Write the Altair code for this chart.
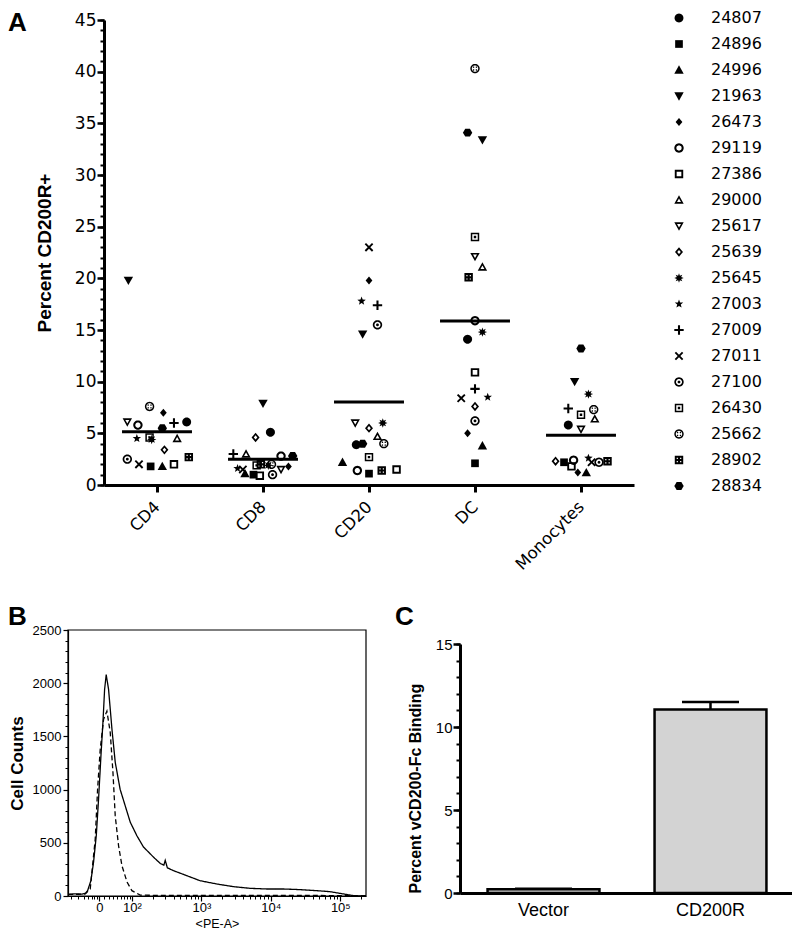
import math
import json
import altair as alt
import pandas as pd

# ---------------- Panel A data ----------------
donors = ["24807", "24896", "24996", "21963", "26473", "29119", "27386", "29000", "25617",
          "25639", "25645", "27003", "27009", "27011", "27100", "26430", "25662", "28902", "28834"]
cell_types = ["CD4", "CD8", "CD20", "DC", "Monocytes"]

# percent CD200R+ per donor (donor order above)
pct_cd4 = [6.1, 1.8, 1.8, 19.8, 7.0, 5.8, 2.0, 4.5, 6.1, 3.4, 4.4, 4.5, 6.0, 2.0, 2.5, 4.6, 7.6, 2.7, 5.5]
pct_cd8 = [5.1, 1.0, 1.1, 7.9, 1.8, 2.8, 0.9, 3.0, 1.5, 4.6, 1.9, 1.6, 3.0, 1.5, 1.0, 1.9, 2.0, 2.0, 2.8]
pct_cd20 = [3.9, 1.1, 2.2, 14.6, 19.8, 1.4, 1.5, 4.7, 6.0, 5.5, 6.0, 17.8, 17.4, 23.0, 15.5, 2.7, 4.0, 1.4, 4.0]
pct_dc = [14.1, 2.1, 3.8, 33.4, 5.0, 15.9, 10.9, 21.1, 22.1, 7.6, 14.8, 8.5, 9.3, 8.4, 6.2, 24.0, 40.3, 20.1, 34.1]
pct_mono = [5.8, 2.2, 1.2, 10.0, 1.2, 2.4, 1.8, 6.4, 5.4, 2.3, 8.8, 2.6, 7.4, 2.2, 2.2, 6.8, 7.3, 2.3, 13.2]

# horizontal scatter of each point, in category steps
jit_cd4 = [0.28, -0.06, 0.05, -0.27, 0.06, -0.18, 0.16, 0.19, -0.28, 0.07, -0.05, -0.19, 0.16, -0.17, -0.28, -0.07, -0.07, 0.30, 0.05]
jit_cd8 = [0.07, -0.09, -0.17, 0.0, 0.24, 0.17, -0.03, -0.16, 0.17, -0.07, 0.05, -0.24, -0.28, -0.19, 0.09, -0.06, 0.08, -0.02, 0.28]
jit_cd20 = [-0.12, 0.0, -0.25, -0.06, 0.0, -0.11, 0.26, 0.08, -0.13, 0.0, 0.13, -0.07, 0.08, 0.0, 0.08, 0.0, 0.14, 0.12, -0.06]
jit_dc = [-0.07, 0.0, 0.07, 0.07, -0.07, 0.0, 0.0, 0.07, 0.0, 0.0, 0.07, 0.12, 0.0, -0.13, 0.0, 0.0, 0.0, -0.06, -0.07]
jit_mono = [-0.12, -0.16, 0.05, -0.06, -0.03, -0.07, -0.09, 0.13, 0.0, -0.24, 0.07, 0.07, -0.12, 0.10, 0.17, 0.0, 0.12, 0.25, 0.0]

# ---------------- Panel B data (histogram, display units) ----------------
pe_solid_pos = [-0.45, -0.35, -0.25, -0.2, -0.168, -0.12, -0.082, -0.043, -0.01, 0.024,
                0.053, 0.077, 0.10, 0.134, 0.183, 0.23, 0.30, 0.374, 0.446, 0.542,
                0.637, 0.78, 0.88, 0.93, 0.95, 0.98, 1.07, 1.26, 1.45, 1.69,
                1.93, 2.17, 2.41, 2.65, 2.89, 3.13, 3.32, 3.52, 3.66, 3.84]
pe_solid_count = [15, 20, 18, 25, 50, 144, 319, 566, 910, 1316,
                  1632, 1942, 2080, 1942, 1566, 1257, 1004, 847, 694, 566,
                  460, 366, 305, 290, 335, 265, 238, 191, 144, 113,
                  88, 72, 66, 66, 60, 50, 41, 19, 3, 0]
pe_vec_pos = [-0.45, -0.3, -0.2, -0.13, -0.058, -0.024, 0.014, 0.062, 0.11, 0.158, 0.197,
              0.23, 0.278, 0.327, 0.40, 0.47, 0.59, 1.0, 2.0, 3.0, 3.84]
pe_vec_count = [15, 15, 20, 66, 535, 1004, 1379, 1660, 1738, 1538, 1163,
                753, 472, 284, 131, 50, 8, 5, 5, 5, 3]
pe_domain = [-0.45, 3.84]
count_domain = [0, 2500]
pe_tick_pos = [0, 0.47, 1.47, 2.47, 3.47]
pe_tick_labels = ["0", "10\u00b2", "10\u00b3", "10\u2074", "10\u2075"]
pe_lin_minor = [-0.40, -0.30, -0.22, -0.16, -0.11, -0.07, -0.03, 0.07, 0.14, 0.2, 0.26, 0.31, 0.36, 0.40, 0.44]

# ---------------- Panel C data ----------------
constructs = ["Vector", "CD200R"]
binding = [0.22, 11.05]
binding_sem = [0.03, 0.45]

panel_letters = ["A", "B", "C"]

# ---------------- layout (pixels inside the single plot area) ----------------
W, H = 784, 919
A_X, A_Y = [96, 626], [477, 12]
B_X, B_Y = [60, 358], [888, 622]
C_X, C_Y = [452, 786], [885, 636]


# ---------------- symbol shapes ----------------
def _area(p):
    return sum(x1 * y2 - x2 * y1 for (x1, y1), (x2, y2) in zip(p, p[1:] + p[:1]))


def _sub(p, hole=False):
    if (_area(p) < 0) != hole:
        p = p[::-1]
    return "M" + "L".join(f"{x:.3f},{y:.3f}" for x, y in p) + "Z"


def _circ(r, cx=0.0, cy=0.0, n=28):
    return [(cx + r * math.cos(2 * math.pi * i / n), cy + r * math.sin(2 * math.pi * i / n)) for i in range(n)]


def _sq(h, cx=0.0, cy=0.0):
    return [(cx - h, cy - h), (cx + h, cy - h), (cx + h, cy + h), (cx - h, cy + h)]


def _scale(p, k, c=(0.0, 0.0)):
    return [(c[0] + (x - c[0]) * k, c[1] + (y - c[1]) * k) for x, y in p]


def _incenter(p):
    (ax, ay), (bx, by), (cx, cy) = p
    a = math.hypot(bx - cx, by - cy)
    b = math.hypot(ax - cx, ay - cy)
    c = math.hypot(ax - bx, ay - by)
    s = a + b + c
    return ((a * ax + b * bx + c * cx) / s, (a * ay + b * by + c * cy) / s)


def _star(n, ro, ri, rot=-90.0):
    pts = []
    for i in range(2 * n):
        r = ro if i % 2 == 0 else ri
        t = math.radians(rot + 180.0 * i / n)
        pts.append((r * math.cos(t), r * math.sin(t)))
    return pts


def _plus(w, L):
    return [(-w, -L), (w, -L), (w, -w), (L, -w), (L, w), (w, w), (w, L), (-w, L),
            (-w, w), (-L, w), (-L, -w), (-w, -w)]


def _rot(p, deg):
    t = math.radians(deg)
    return [(x * math.cos(t) - y * math.sin(t), x * math.sin(t) + y * math.cos(t)) for x, y in p]


TRI_UP = [(0.0, -1.0), (1.0, 0.78), (-1.0, 0.78)]
TRI_DN = [(0.0, 1.0), (1.0, -0.78), (-1.0, -0.78)]
DIA = [(0.0, -1.0), (0.85, 0.0), (0.0, 1.0), (-0.85, 0.0)]
HEX = [(-1.0, 0.0), (-0.5, -0.85), (0.5, -0.85), (1.0, 0.0), (0.5, 0.85), (-0.5, 0.85)]

shape_paths = [
    _sub(_circ(0.95)),                                                   # 24807
    _sub(_sq(0.82)),                                                     # 24896
    _sub(TRI_UP),                                                        # 24996
    _sub(TRI_DN),                                                        # 21963
    _sub(_scale(DIA, 0.85)),                                             # 26473
    _sub(_circ(1.0)) + _sub(_circ(0.56), True),                          # 29119
    _sub(_sq(0.9)) + _sub(_sq(0.5), True),                               # 27386
    _sub(TRI_UP) + _sub(_scale(TRI_UP, 0.42, _incenter(TRI_UP)), True),  # 29000
    _sub(TRI_DN) + _sub(_scale(TRI_DN, 0.42, _incenter(TRI_DN)), True),  # 25617
    _sub(DIA) + _sub(_scale(DIA, 0.45), True),                           # 25639
    _sub(_star(8, 1.0, 0.5)),                                            # 25645
    _sub(_star(5, 0.95, 0.4)),                                           # 27003
    _sub(_plus(0.22, 1.0)),                                              # 27009
    _sub(_rot(_plus(0.2, 1.1), 45)),                                     # 27011
    _sub(_circ(1.0)) + _sub(_circ(0.64), True) + _sub(_circ(0.3)),       # 27100
    _sub(_sq(0.9)) + _sub(_sq(0.58), True) + _sub(_sq(0.26)),            # 26430
    _sub(_circ(1.0)) + _sub(_circ(0.68), True)
    + "".join(_sub(_circ(0.16, sx * 0.3, sy * 0.3, 12)) for sx in (-1, 1) for sy in (-1, 1)),  # 25662
    _sub(_sq(0.9))
    + "".join(_sub(_sq(0.13, sx * 0.36, sy * 0.36), True) for sx in (-1, 1) for sy in (-1, 1)),  # 28902
    _sub(HEX),                                                           # 28834
]

# ---------------- tables ----------------
rows = []
for ci, (vals, jit) in enumerate(zip([pct_cd4, pct_cd8, pct_cd20, pct_dc, pct_mono],
                                     [jit_cd4, jit_cd8, jit_cd20, jit_dc, jit_mono])):
    for d, v, j in zip(donors, vals, jit):
        rows.append({"cell": cell_types[ci], "idx": ci, "donor": d, "pct": v, "jit": j})
dfA = pd.DataFrame(rows)

dfB = pd.concat([
    pd.DataFrame({"pe": pe_solid_pos, "count": pe_solid_count, "sample": "CD200R"}),
    pd.DataFrame({"pe": pe_vec_pos, "count": pe_vec_count, "sample": "Vector"}),
], ignore_index=True)
dfBframe = pd.DataFrame({"pe0": [pe_domain[0]], "pe1": [pe_domain[1]],
                         "c0": [count_domain[0]], "c1": [count_domain[1]]})

dfC = pd.DataFrame({"construct": constructs, "binding": binding, "sem": binding_sem})

LBL = "DejaVu Sans"
ARIAL = "Liberation Sans"


def letter(ch, px, py):
    return alt.Chart(alt.Data(values=[{"letter": ch}])).mark_text(
        font=ARIAL, fontSize=26, fontWeight="bold", align="left", baseline="top", color="black"
    ).encode(text="letter:N", x=alt.value(px), y=alt.value(py))


def bottom_off(rng):
    return -(H - rng[0])


# ---------------- Panel A ----------------
scaleXA = alt.Scale(domain=[-0.5, 4.5], nice=False, zero=False, range=A_X)
scaleYA = alt.Scale(domain=[0, 45], nice=False, range=A_Y)

xA_axis = alt.Axis(values=list(range(len(cell_types))),
                   labelExpr=json.dumps(cell_types) + "[datum.value]",
                   title=None, labelAngle=315, labelAlign="right", labelBaseline="middle",
                   labelPadding=12, labelFont=LBL, labelFontSize=16.5, tickSize=7, tickWidth=3,
                   domainWidth=3, grid=False, orient="bottom", offset=bottom_off(A_Y))
yA_major = alt.Axis(values=list(range(0, 46, 5)), orient="left", offset=-A_X[0],
                    title="Percent CD200R+",
                    titleFont=ARIAL, titleFontSize=19, titleFontWeight="bold", titlePadding=20,
                    labelFont=LBL, labelFontSize=17, labelPadding=1, tickSize=7, tickWidth=2.5,
                    domainWidth=3, grid=False, labelFlush=False)
yA_minor = alt.Axis(values=list(range(0, 46)), orient="left", offset=-A_X[0], labels=False, title=None,
                    tickSize=4, tickWidth=2, domain=False, grid=False)

pts = alt.Chart(dfA).transform_calculate(pos="datum.idx + datum.jit").mark_point(
    filled=True, size=88, color="black", opacity=1, strokeWidth=0
).encode(
    x=alt.X("pos:Q", scale=scaleXA, axis=xA_axis),
    y=alt.Y("pct:Q", scale=scaleYA, axis=yA_major),
    shape=alt.Shape("donor:N", scale=alt.Scale(domain=donors, range=shape_paths),
                    legend=alt.Legend(title=None, orient="none", legendX=663, legendY=2,
                                      labelFont=LBL, labelFontSize=16, labelColor="black",
                                      symbolSize=88, symbolFillColor="black",
                                      symbolStrokeColor="black", symbolStrokeWidth=0,
                                      symbolOpacity=1, rowPadding=10, labelOffset=24,
                                      padding=0)),
)

means = alt.Chart(dfA).transform_aggregate(
    mean_pct="mean(pct)", groupby=["idx"]
).transform_calculate(
    x_lo="datum.idx - 0.33", x_hi="datum.idx + 0.33"
).mark_rule(color="black", strokeWidth=3).encode(
    x=alt.X("x_lo:Q", scale=scaleXA, axis=None),
    x2="x_hi:Q",
    y=alt.Y("mean_pct:Q", scale=scaleYA, axis=yA_minor),
)

# ---------------- Panel B ----------------
scaleXB = alt.Scale(domain=pe_domain, nice=False, zero=False, range=B_X)
scaleYB = alt.Scale(domain=count_domain, nice=False, range=B_Y)

log_minor = [pe_tick_pos[1] + k + math.log10(m) for k in range(4) for m in range(2, 10)
             if pe_tick_pos[1] + k + math.log10(m) < pe_domain[1]]

xB_major = alt.Axis(values=pe_tick_pos, orient="bottom", offset=bottom_off(B_Y),
                    labelExpr=json.dumps(pe_tick_labels) + "[indexof(" + json.dumps(pe_tick_pos) + ", datum.value)]",
                    title="<PE-A>", titleFont=ARIAL, titleFontSize=12.5, titleFontWeight="normal",
                    titlePadding=3, labelFont=ARIAL + ", DejaVu Sans", labelFontSize=13, labelPadding=0,
                    tickSize=5, tickWidth=1.2, domainWidth=1.2, grid=False, labelFlush=False)
xB_minor = alt.Axis(values=pe_lin_minor + log_minor, orient="bottom", offset=bottom_off(B_Y),
                    labels=False, title=None, tickSize=3, tickWidth=1, domain=False, grid=False)
yB_major = alt.Axis(values=list(range(0, 2501, 500)), orient="left", offset=-B_X[0],
                    title="Cell Counts", format="d",
                    titleFont=ARIAL, titleFontSize=17, titleFontWeight="bold", titlePadding=6,
                    labelFont=ARIAL, labelFontSize=13, labelPadding=2, tickSize=5, tickWidth=1.2,
                    domainWidth=1.2, grid=False, labelFlush=False)
yB_minor = alt.Axis(values=list(range(0, 2501, 100)), orient="left", offset=-B_X[0],
                    labels=False, title=None, tickSize=3, tickWidth=1, domain=False, grid=False)

hist = alt.Chart(dfB).mark_line(color="black", strokeWidth=1.3).encode(
    x=alt.X("pe:Q", scale=scaleXB, axis=xB_major),
    y=alt.Y("count:Q", scale=scaleYB, axis=yB_major),
    strokeDash=alt.StrokeDash("sample:N", scale=alt.Scale(domain=["CD200R", "Vector"], range=[[1, 0], [5, 3]]),
                              legend=None),
    order="pe:Q",
)
hist_minor = alt.Chart(dfB).mark_line(opacity=0).encode(
    x=alt.X("pe:Q", scale=scaleXB, axis=xB_minor),
    y=alt.Y("count:Q", scale=scaleYB, axis=yB_minor),
    detail="sample:N",
)
frameB = alt.Chart(dfBframe).mark_rect(fillOpacity=0, stroke="black", strokeWidth=1.2).encode(
    x=alt.X("pe0:Q", scale=scaleXB, axis=None), x2="pe1:Q",
    y=alt.Y("c0:Q", scale=scaleYB, axis=None), y2="c1:Q",
)

# ---------------- Panel C ----------------
scaleYC = alt.Scale(domain=[0, 15], nice=False, range=C_Y)
scaleXC = alt.Scale(domain=constructs, paddingInner=0.33, paddingOuter=0.165, range=C_X)
xC_axis = alt.Axis(title=None, labelAngle=0, ticks=False, labelFont=ARIAL, labelFontSize=18,
                   labelPadding=8, domainWidth=3, grid=False, orient="bottom", offset=bottom_off(C_Y))
yC_major = alt.Axis(values=[0, 5, 10, 15], orient="left", offset=-C_X[0],
                    title="Percent vCD200-Fc Binding",
                    titleFont=ARIAL, titleFontSize=16, titleFontWeight="bold", titlePadding=12,
                    titleAnchor="start",
                    labelFont=ARIAL, labelFontSize=15, labelPadding=1, tickSize=7, tickWidth=2.5,
                    domainWidth=3, grid=False, labelFlush=False)
yC_minor = alt.Axis(values=list(range(0, 16)), orient="left", offset=-C_X[0], labels=False, title=None,
                    tickSize=4, tickWidth=2, domain=False, grid=False)

bars = alt.Chart(dfC).mark_bar(fill="#d3d3d3", stroke="black", strokeWidth=2.5).encode(
    x=alt.X("construct:N", scale=scaleXC, axis=xC_axis),
    y=alt.Y("binding:Q", scale=scaleYC, axis=yC_major))
err = alt.Chart(dfC).transform_calculate(upper="datum.binding + datum.sem").mark_rule(
    color="black", strokeWidth=2.5).encode(
    x=alt.X("construct:N", scale=scaleXC, axis=None),
    y=alt.Y("binding:Q", scale=scaleYC, axis=None), y2="upper:Q")
cap = alt.Chart(dfC).transform_calculate(upper="datum.binding + datum.sem").mark_tick(
    color="black", thickness=2.5, size=57, opacity=1).encode(
    x=alt.X("construct:N", scale=scaleXC, axis=None),
    y=alt.Y("upper:Q", scale=scaleYC, axis=yC_minor))

chart = alt.layer(
    pts, means, letter(panel_letters[0], 0, 2),
    frameB, hist, hist_minor, letter(panel_letters[1], 0, 596),
    bars, err, cap, letter(panel_letters[2], 387, 596),
).resolve_scale(
    x="independent", y="independent", shape="independent", strokeDash="independent"
).resolve_axis(
    x="independent", y="independent"
).properties(
    width=W, height=H, padding=0, background="white"
).configure_view(stroke=None).configure_axis(
    domainColor="black", tickColor="black", labelColor="black", titleColor="black"
)

chart.save("out.html", embed_options={"renderer": "svg", "actions": False})
